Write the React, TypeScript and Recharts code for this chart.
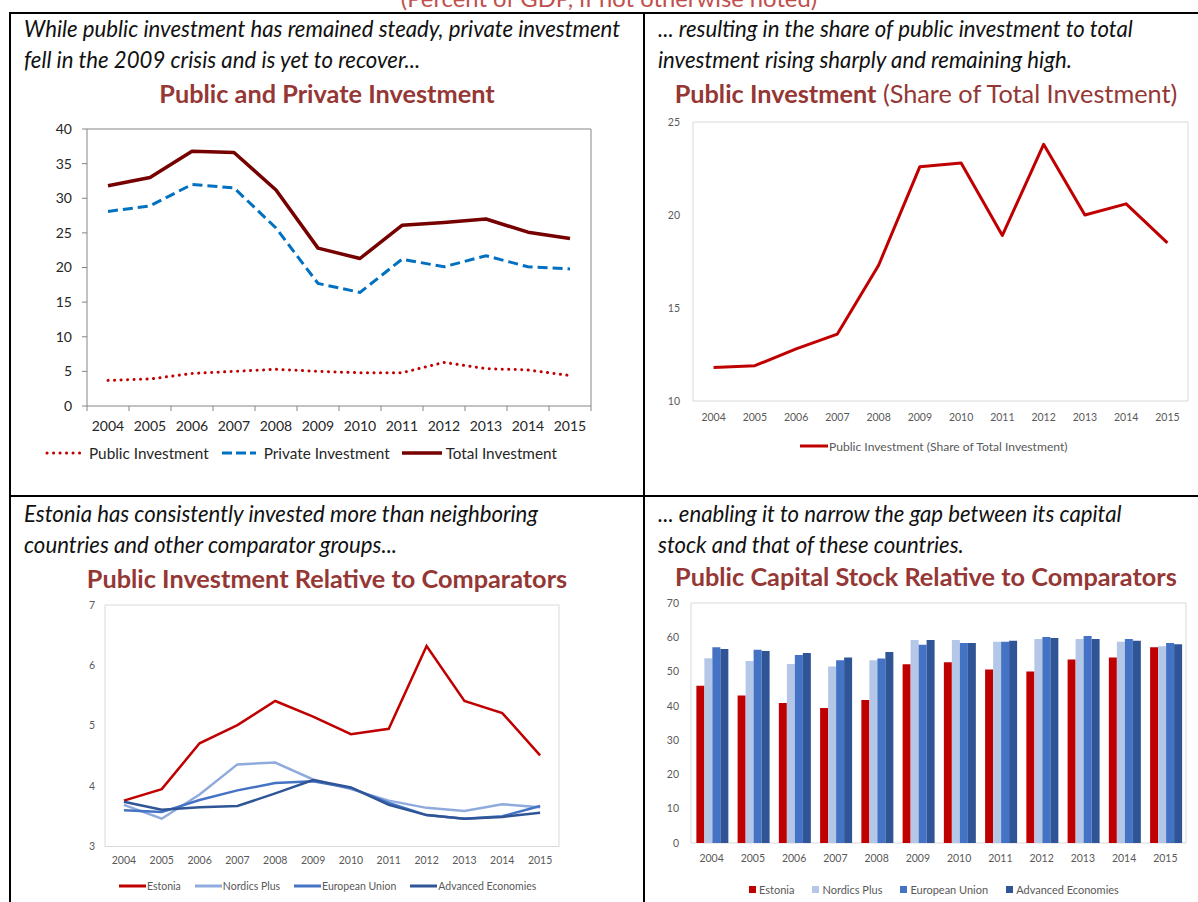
import React from 'react';
import { LineChart, Line, BarChart, Bar, XAxis, YAxis, CartesianGrid } from 'recharts';

const years = ['2004', '2005', '2006', '2007', '2008', '2009', '2010', '2011', '2012', '2013', '2014', '2015'];

// Public and Private Investment (percent of GDP)
const publicInvestment = [3.7, 3.9, 4.7, 5.0, 5.3, 5.0, 4.8, 4.8, 6.3, 5.4, 5.2, 4.4];
const privateInvestment = [28.1, 28.9, 32.0, 31.5, 25.7, 17.7, 16.4, 21.2, 20.1, 21.7, 20.1, 19.8];
const totalInvestment = [31.8, 33.0, 36.8, 36.6, 31.2, 22.8, 21.3, 26.1, 26.5, 27.0, 25.1, 24.2];
const investTicks = [0, 5, 10, 15, 20, 25, 30, 35, 40];

// Public investment, share of total investment
const publicShare = [11.8, 11.9, 12.8, 13.6, 17.3, 22.6, 22.8, 18.9, 23.8, 20.0, 20.6, 18.5];
const shareTicks = [10, 15, 20, 25];

// Public investment relative to comparators
const estoniaInv = [3.76, 3.95, 4.71, 5.01, 5.41, 5.15, 4.86, 4.95, 6.32, 5.41, 5.21, 4.51];
const nordicsInv = [3.69, 3.46, 3.86, 4.36, 4.39, 4.11, 3.95, 3.76, 3.64, 3.59, 3.7, 3.65];
const euInv = [3.6, 3.57, 3.77, 3.93, 4.05, 4.08, 3.97, 3.72, 3.52, 3.46, 3.5, 3.67];
const advancedInv = [3.74, 3.61, 3.65, 3.67, 3.88, 4.1, 3.98, 3.69, 3.52, 3.46, 3.49, 3.56];
const compTicks = [3, 4, 5, 6, 7];

// Public capital stock relative to comparators
const estoniaStock = [45.9, 43.0, 40.8, 39.4, 41.7, 52.1, 52.7, 50.6, 50.0, 53.5, 54.1, 57.1];
const nordicsStock = [53.9, 53.1, 52.2, 51.5, 53.3, 59.2, 59.2, 58.7, 59.5, 59.5, 58.7, 57.4];
const euStock = [57.1, 56.4, 54.8, 53.3, 53.8, 57.8, 58.3, 58.7, 60.1, 60.4, 59.5, 58.3];
const advancedStock = [56.6, 56.0, 55.4, 54.1, 55.7, 59.2, 58.3, 59.0, 59.8, 59.5, 59.0, 58.0];
const stockTicks = [0, 10, 20, 30, 40, 50, 60, 70];

const investRows = years.map((year, i) => ({
  year,
  public: publicInvestment[i],
  private: privateInvestment[i],
  total: totalInvestment[i],
}));
const shareRows = years.map((year, i) => ({ year, share: publicShare[i] }));
const compRows = years.map((year, i) => ({
  year,
  estonia: estoniaInv[i],
  nordics: nordicsInv[i],
  eu: euInv[i],
  advanced: advancedInv[i],
}));
const stockRows = years.map((year, i) => ({
  year,
  estonia: estoniaStock[i],
  nordics: nordicsStock[i],
  eu: euStock[i],
  advanced: advancedStock[i],
}));

const FONT = 'Lato, "Open Sans", sans-serif';
const TITLE_RED = '#953735';
const AXIS_GREY = '#868686';
const BOX_GREY = '#D9D9D9';
const LABEL_GREY = '#595959';

const boxTop = ({ offset }: any) => [offset.top, offset.top + offset.height];
const boxSides = ({ offset }: any) => [offset.left, offset.left + offset.width];

const Caption = ({ left, top, lines }: { left: number; top: number; lines: string[] }) => (
  <div style={{ position: 'absolute', left, top, fontStyle: 'italic', fontSize: 22.2, lineHeight: '31px', color: '#111', whiteSpace: 'nowrap' }}>
    {lines.map((l) => (
      <div key={l}>{l}</div>
    ))}
  </div>
);

const Title = ({ left, width, top, children }: any) => (
  <div style={{ position: 'absolute', left, width, top, textAlign: 'center', fontSize: 25.3, lineHeight: '30px', color: TITLE_RED, whiteSpace: 'nowrap' }}>
    {children}
  </div>
);

// x tick for the first chart: label plus tick marks between categories
const YearTick = (props: any) => {
  const { x, y, payload, index } = props;
  const axisY = y - 15;
  const half = 21;
  return (
    <g>
      <line x1={x - half} x2={x - half} y1={axisY} y2={axisY + 5} stroke={AXIS_GREY} />
      {index === years.length - 1 && <line x1={x + half} x2={x + half} y1={axisY} y2={axisY + 5} stroke={AXIS_GREY} />}
      <text x={x} y={y} dy="0.71em" textAnchor="middle" fill="#262626" fontSize={14}>
        {payload.value}
      </text>
    </g>
  );
};

const LineSwatch = ({ color, width, dash, thick = 3 }: any) => (
  <svg width={width} height={8} style={{ display: 'block' }}>
    <line x1={dash ? 2 : 0} x2={width - (dash ? 2 : 0)} y1={4} y2={4} stroke={color} strokeWidth={thick} strokeDasharray={dash} strokeLinecap={dash === '0.1 6.4' ? 'round' : 'butt'} />
  </svg>
);

export default function App() {
  return (
    <div style={{ position: 'absolute', left: 0, top: 0, width: 1198, height: 902, overflow: 'hidden', background: '#fff', fontFamily: FONT }}>
      {/* page subtitle, cut off at the top as in the source page */}
      <div style={{ position: 'absolute', left: 300, width: 618, top: -15, textAlign: 'center', fontSize: 23.8, lineHeight: '26px', color: '#C0504D' }}>
        (Percent of GDP, if not otherwise noted)
      </div>

      {/* panel frame */}
      <div style={{ position: 'absolute', left: 10, top: 12, width: 1188, height: 2, background: '#000' }} />
      <div style={{ position: 'absolute', left: 9, top: 12, width: 2, height: 890, background: '#000' }} />
      <div style={{ position: 'absolute', left: 643, top: 12, width: 2, height: 890, background: '#000' }} />
      <div style={{ position: 'absolute', left: 10, top: 495, width: 1188, height: 2, background: '#000' }} />

      {/* top left */}
      <Caption left={24} top={13} lines={['While public investment has remained steady, private investment', 'fell in the 2009 crisis and is yet to recover...']} />
      <Title left={10} width={634} top={78}>
        <b>Public and Private Investment</b>
      </Title>
      <div style={{ position: 'absolute', left: 0, top: 100 }}>
        <LineChart width={640} height={360} data={investRows} margin={{ top: 29, right: 49, bottom: 24, left: 0 }}>
          <CartesianGrid stroke={AXIS_GREY} horizontalCoordinatesGenerator={({ offset }: any) => [offset.top]} verticalCoordinatesGenerator={({ offset }: any) => [offset.left + offset.width]} />
          <XAxis dataKey="year" interval={0} padding={{ left: 21, right: 21 }} height={30} axisLine={{ stroke: AXIS_GREY }} tickLine={false} tickSize={0} tickMargin={15} tick={(p: any) => <YearTick {...p} />} />
          <YAxis width={87} type="number" domain={[0, 40]} ticks={investTicks} interval={0} axisLine={{ stroke: AXIS_GREY }} tickLine={{ stroke: AXIS_GREY }} tickSize={5} tickMargin={10} tick={{ fill: '#262626', fontSize: 14 }} />
          <Line dataKey="public" name="Public Investment" stroke="#C00000" strokeWidth={3} strokeDasharray="0.1 6.4" strokeLinecap="round" dot={false} isAnimationActive={false} />
          <Line dataKey="private" name="Private Investment" stroke="#0070C0" strokeWidth={3} strokeDasharray="10 5" dot={false} isAnimationActive={false} />
          <Line dataKey="total" name="Total Investment" stroke="#760000" strokeWidth={3.5} strokeLinejoin="round" dot={false} isAnimationActive={false} />
        </LineChart>
      </div>
      <div style={{ position: 'absolute', left: 45, top: 443, height: 20, display: 'flex', alignItems: 'center', fontSize: 15.3, color: '#262626', whiteSpace: 'nowrap' }}>
        <LineSwatch color="#C00000" width={38} dash="0.1 6.4" />
        <span style={{ marginLeft: 6, marginRight: 11 }}>Public Investment</span>
        <LineSwatch color="#0070C0" width={38} dash="10 4" />
        <span style={{ marginLeft: 6, marginRight: 12 }}>Private Investment</span>
        <LineSwatch color="#760000" width={40} thick={3.5} />
        <span style={{ marginLeft: 4 }}>Total Investment</span>
      </div>

      {/* top right */}
      <Caption left={658} top={13} lines={['... resulting in the share of public investment to total', 'investment rising sharply and remaining high.']} />
      <Title left={644} width={564} top={78}>
        <b>Public Investment</b> (Share of Total Investment)
      </Title>
      <div style={{ position: 'absolute', left: 644, top: 100 }}>
        <LineChart width={554} height={340} data={shareRows} margin={{ top: 22, right: 10, bottom: 9, left: 0 }}>
          <CartesianGrid stroke={BOX_GREY} horizontalCoordinatesGenerator={boxTop} verticalCoordinatesGenerator={boxSides} />
          <XAxis dataKey="year" interval={0} padding={{ left: 20.6, right: 20.6 }} height={30} axisLine={false} tickLine={false} tickSize={0} tickMargin={13} tick={{ fill: LABEL_GREY, fontSize: 10.5 }} />
          <YAxis width={49} type="number" domain={[10, 25]} ticks={shareTicks} interval={0} axisLine={false} tickLine={false} tickSize={0} tickMargin={13} tick={{ fill: LABEL_GREY, fontSize: 10.5 }} />
          <Line dataKey="share" name="Public Investment (Share of Total Investment)" stroke="#C00000" strokeWidth={3} strokeLinejoin="round" dot={false} isAnimationActive={false} />
        </LineChart>
      </div>
      <div style={{ position: 'absolute', left: 800, top: 436, height: 20, display: 'flex', alignItems: 'center', fontSize: 12.1, color: LABEL_GREY, whiteSpace: 'nowrap' }}>
        <LineSwatch color="#C00000" width={28} />
        <span style={{ marginLeft: 1 }}>Public Investment (Share of Total Investment)</span>
      </div>

      {/* bottom left */}
      <Caption left={24} top={498} lines={['Estonia has consistently invested more than neighboring', 'countries and other comparator groups...']} />
      <Title left={10} width={634} top={563}>
        <b>Public Investment Relative to Comparators</b>
      </Title>
      <div style={{ position: 'absolute', left: 10, top: 590 }}>
        <LineChart width={600} height={290} data={compRows} margin={{ top: 15, right: 51, bottom: 8.5, left: 0 }}>
          <CartesianGrid stroke={BOX_GREY} horizontalCoordinatesGenerator={boxTop} verticalCoordinatesGenerator={boxSides} />
          <XAxis dataKey="year" interval={0} padding={{ left: 18.9, right: 18.9 }} height={25} axisLine={false} tickLine={false} tickSize={0} tickMargin={10.5} tick={{ fill: LABEL_GREY, fontSize: 10.5 }} />
          <YAxis width={95} type="number" domain={[3, 7]} ticks={compTicks} interval={0} axisLine={false} tickLine={false} tickSize={0} tickMargin={10} tick={{ fill: LABEL_GREY, fontSize: 10.5 }} />
          <Line dataKey="estonia" name="Estonia" stroke="#C00000" strokeWidth={2.5} dot={false} isAnimationActive={false} />
          <Line dataKey="nordics" name="Nordics Plus" stroke="#8FAADC" strokeWidth={2.5} dot={false} isAnimationActive={false} />
          <Line dataKey="eu" name="European Union" stroke="#4472C4" strokeWidth={2.5} dot={false} isAnimationActive={false} />
          <Line dataKey="advanced" name="Advanced Economies" stroke="#2F5597" strokeWidth={2.5} dot={false} isAnimationActive={false} />
        </LineChart>
      </div>
      <div style={{ position: 'absolute', left: 119, top: 876, height: 20, display: 'flex', alignItems: 'center', fontSize: 10.5, color: LABEL_GREY, whiteSpace: 'nowrap' }}>
        <LineSwatch color="#C00000" width={27} />
        <span style={{ marginLeft: 1, marginRight: 14 }}>Estonia</span>
        <LineSwatch color="#8FAADC" width={27} />
        <span style={{ marginLeft: 1, marginRight: 14 }}>Nordics Plus</span>
        <LineSwatch color="#4472C4" width={27} />
        <span style={{ marginLeft: 1, marginRight: 14 }}>European Union</span>
        <LineSwatch color="#2F5597" width={27} />
        <span style={{ marginLeft: 1 }}>Advanced Economies</span>
      </div>

      {/* bottom right */}
      <Caption left={658} top={498} lines={['... enabling it to narrow the gap between its capital', 'stock and that of these countries.']} />
      <Title left={644} width={564} top={561}>
        <b>Public Capital Stock Relative to Comparators</b>
      </Title>
      <div style={{ position: 'absolute', left: 644, top: 590 }}>
        <BarChart width={554} height={290} data={stockRows} margin={{ top: 13, right: 12, bottom: 12, left: 0 }} barCategoryGap="13%" barGap={0}>
          <CartesianGrid stroke={BOX_GREY} horizontalCoordinatesGenerator={boxTop} verticalCoordinatesGenerator={boxSides} />
          <XAxis dataKey="year" interval={0} height={25} axisLine={false} tickLine={false} tickSize={0} tickMargin={12} tick={{ fill: LABEL_GREY, fontSize: 10.5 }} />
          <YAxis width={47} type="number" domain={[0, 70]} ticks={stockTicks} interval={0} axisLine={false} tickLine={false} tickSize={0} tickMargin={12} tick={{ fill: LABEL_GREY, fontSize: 10.5 }} />
          <Bar dataKey="estonia" name="Estonia" fill="#C00000" isAnimationActive={false} />
          <Bar dataKey="nordics" name="Nordics Plus" fill="#B4C7E7" isAnimationActive={false} />
          <Bar dataKey="eu" name="European Union" fill="#4472C4" isAnimationActive={false} />
          <Bar dataKey="advanced" name="Advanced Economies" fill="#2F5597" isAnimationActive={false} />
        </BarChart>
      </div>
      <div style={{ position: 'absolute', left: 749, top: 879, height: 20, display: 'flex', alignItems: 'center', fontSize: 11, color: LABEL_GREY, whiteSpace: 'nowrap' }}>
        {[
          ['Estonia', '#C00000'],
          ['Nordics Plus', '#B4C7E7'],
          ['European Union', '#4472C4'],
          ['Advanced Economies', '#2F5597'],
        ].map(([name, color], i) => (
          <div key={name} style={{ display: 'flex', alignItems: 'center', marginLeft: i === 0 ? 0 : 18 }}>
            <div style={{ width: 7, height: 7, background: color, marginRight: 3 }} />
            <span>{name}</span>
          </div>
        ))}
      </div>
    </div>
  );
}
